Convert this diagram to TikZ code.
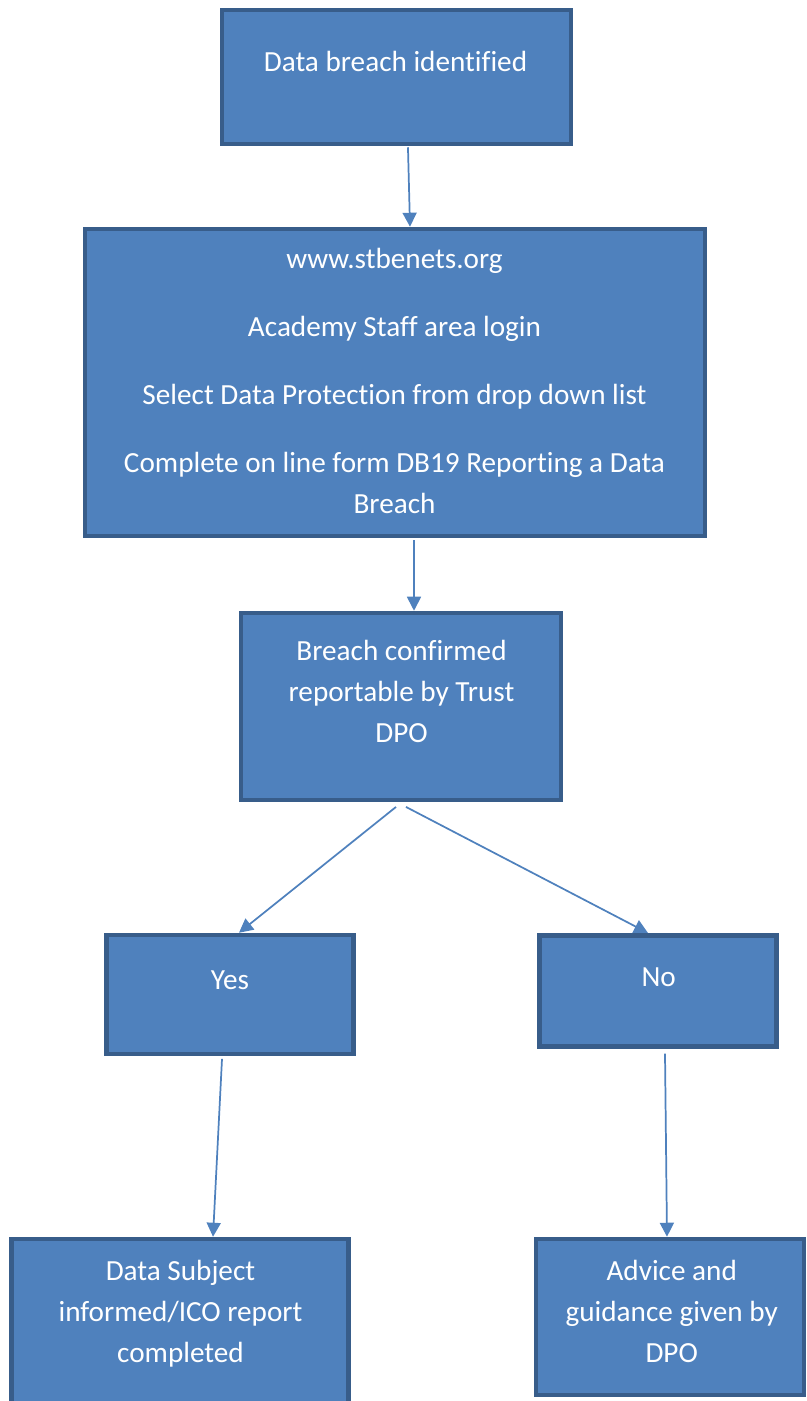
\documentclass[tikz,border=0pt]{standalone}
\usepackage{fontspec}
\setmainfont{Carlito}[Ligatures=NoCommon]
\usetikzlibrary{arrows.meta, positioning}
\definecolor{boxfill}{HTML}{4F81BD}
\definecolor{boxline}{HTML}{385D8A}
\tikzset{
    stepbox/.style={
        rectangle, draw=boxline, line width=3.4pt,
        fill=boxfill, inner sep=0pt
    },
    steptext/.style={
        anchor=base, align=center, text=white, inner sep=0pt,
        font=\fontsize{21.9pt}{30.75pt}\selectfont
    },
    flow/.style={draw=boxfill, line width=1.3pt, -{Triangle[length=10.5pt, width=10.5pt]}}
}

\begin{document}
\begin{tikzpicture}[x=0.75pt, y=-0.75pt]
\useasboundingbox (0,0) rectangle (806,1401);

% Start
\node[stepbox, minimum width=261.75pt, minimum height=100.5pt] (found) at (396.5,77) {};
\node[steptext] (foundtxt) at (395.5,72) {Data breach identified};

% Online report
\node[stepbox, minimum width=465pt, minimum height=230.25pt] (report) at (395,382.5) {};
\node[steptext] (reporttxt) at (394.5,513.3) {www.stbenets.org\\[20.25pt]
    Academy Staff area login\\[20.25pt]
    Select Data Protection from drop down list\\[20.25pt]
    Complete on line form DB19 Reporting a Data\\Breach};

\draw[flow] ([xshift=8.6pt, yshift=-0.75pt]found.south) -- ([xshift=11.25pt]report.north);

% Decision
\node[stepbox, minimum width=240pt, minimum height=140.25pt] (dpo) at (401,706.5) {};
\node[steptext] (dpotxt) at (401.5,742) {Breach confirmed\\reportable by Trust\\DPO};

\draw[flow] ([xshift=14.25pt, yshift=-1.5pt]report.south) -- ([xshift=9.75pt]dpo.north);

% Yes / No
\node[stepbox, minimum width=185.6pt, minimum height=89.25pt] (yes) at (230,994.5) {};
\node[steptext] (yestxt) at (230,989) {Yes};
\node[stepbox, minimum width=177.4pt, minimum height=83.6pt] (no) at (658,991) {};
\node[steptext] (notxt) at (658.7,986) {No};

\draw[flow] ([xshift=-3.75pt, yshift=-3.5pt]dpo.south) -- ([xshift=6.75pt]yes.north);
\draw[flow] ([xshift=3.75pt, yshift=-3.5pt]dpo.south) -- ([xshift=-7.5pt]no.north);

% Outcomes
\node[stepbox, minimum width=253.1pt, minimum height=135pt] (inform) at (180,1329) {};
\node[steptext] (informtxt) at (180.5,1362) {Data Subject\\informed/ICO report\\completed};
\node[stepbox, minimum width=201pt, minimum height=117pt] (advice) at (670,1317) {};
\node[steptext] (advicetxt) at (671.7,1362.7) {Advice and\\guidance given by\\DPO};

\draw[flow] ([xshift=-6pt, yshift=-2pt]yes.south) -- ([xshift=24.75pt]inform.north);
\draw[flow] ([xshift=5.25pt, yshift=-3.5pt]no.south) -- ([xshift=-2.25pt]advice.north);

\end{tikzpicture}
\end{document}
